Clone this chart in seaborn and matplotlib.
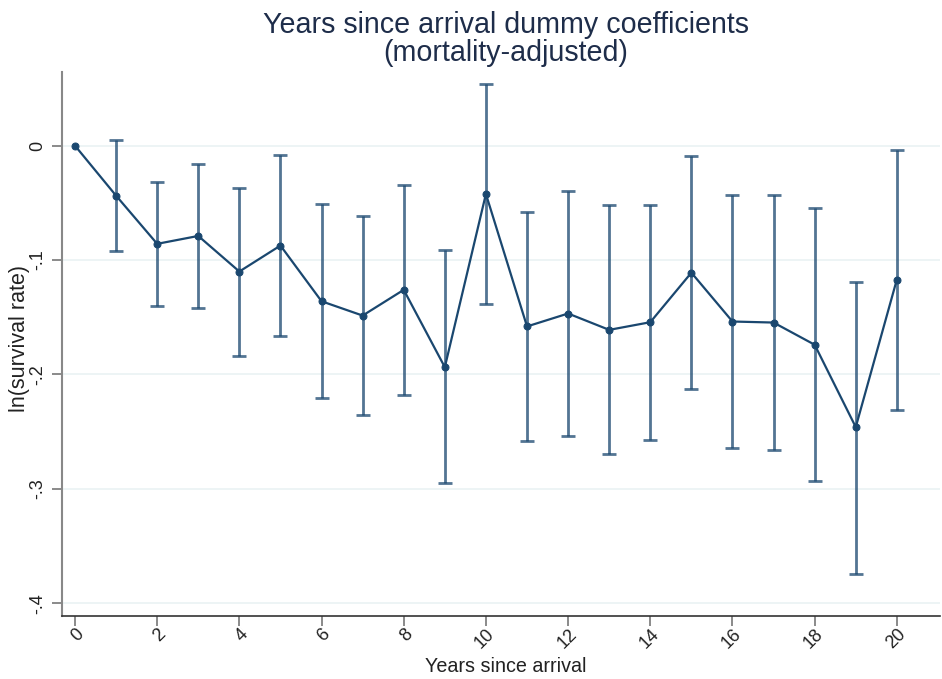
import numpy as np
import pandas as pd
import matplotlib
matplotlib.use("Agg")
import matplotlib.pyplot as plt
import seaborn as sns

years = list(range(0, 21))
coef = [0.0, -0.0437, -0.0858, -0.0789, -0.110, -0.0873, -0.136, -0.1485, -0.126, -0.1936,
        -0.0422, -0.158, -0.1467, -0.161, -0.1543, -0.111, -0.1537, -0.1546, -0.174, -0.246, -0.117]
ci_low = [0.0, -0.0922, -0.140, -0.142, -0.184, -0.166, -0.2207, -0.2355, -0.2178, -0.2949,
          -0.138, -0.2585, -0.2535, -0.2695, -0.257, -0.2128, -0.264, -0.266, -0.293, -0.374, -0.231]
ci_high = [0.0, 0.0047, -0.032, -0.0157, -0.0367, -0.0084, -0.051, -0.0617, -0.0342, -0.0914,
           0.0536, -0.0576, -0.0398, -0.0518, -0.0515, -0.0087, -0.043, -0.043, -0.0544, -0.119, -0.0038]
yticks = [0, -0.1, -0.2, -0.3, -0.4]
ytick_labels = ["0", "-.1", "-.2", "-.3", "-.4"]
xticks = list(range(0, 21, 2))

df = pd.DataFrame({"year": years, "coef": coef, "lo": ci_low, "hi": ci_high})

sns.set_style("white")
plt.rcParams["font.family"] = ["Liberation Sans", "DejaVu Sans"]

navy = "#1a476f"
fig = plt.figure(figsize=(9.42, 6.79), dpi=100)
ax = fig.add_axes([62 / 942, 63 / 679, (940 - 62) / 942, (616 - 72) / 679])

for yv in yticks:
    ax.axhline(yv, color="#eaf2f3", lw=1.2, zorder=0)

ci = df[df["year"] > 0]
ax.errorbar(ci["year"], ci["coef"],
            yerr=[ci["coef"] - ci["lo"], ci["hi"] - ci["coef"]],
            fmt="none", ecolor=navy, alpha=0.75, elinewidth=2, capsize=4.7, capthick=2, zorder=2)
sns.lineplot(data=df, x="year", y="coef", ax=ax, color=navy, marker="o", markersize=5,
             markeredgecolor=navy, lw=1.6, zorder=3)

ax.set_xlim(-0.316, 21.05)
ax.set_ylim(-0.4111, 0.0644)
ax.set_yticks(yticks)
ax.set_yticklabels(ytick_labels, rotation=90, va="center", fontsize=13, color="#222222")
ax.set_xticks(xticks)
ax.set_xticklabels([str(x) for x in xticks], rotation=45, ha="right", va="top",
                   rotation_mode="anchor", fontsize=13, color="#222222")
ax.tick_params(axis="both", direction="out", length=7, width=1.2, color="#777777", left=True, bottom=True)
ax.tick_params(axis="y", pad=4)
ax.tick_params(axis="x", pad=0)

sns.despine(ax=ax, top=True, right=True)
ax.spines["left"].set_color("#888888")
ax.spines["left"].set_linewidth(1.5)
ax.spines["bottom"].set_color("#333333")
ax.spines["bottom"].set_linewidth(1.2)

ax.set_xlabel("Years since arrival", fontsize=14.2, color="#222222")
ax.xaxis.label.set_va("center")
ax.xaxis.set_label_coords((506 - 62) / 878, (616 - 667) / 544)
ax.set_ylabel("ln(survival rate)", fontsize=15.5, color="#222222")
ax.yaxis.label.set_va("center")
ax.yaxis.set_label_coords((20 - 62) / 878, (616 - 338.5) / 544)

fig.text(506 / 942, 1 - 25 / 679, "Years since arrival dummy coefficients", ha="center", va="center",
         fontsize=20.6, color="#1e2d4a")
fig.text(506 / 942, 1 - 53 / 679, "(mortality-adjusted)", ha="center", va="center",
         fontsize=20.6, color="#1e2d4a")

fig.savefig("out.png", dpi=100, facecolor="white")
